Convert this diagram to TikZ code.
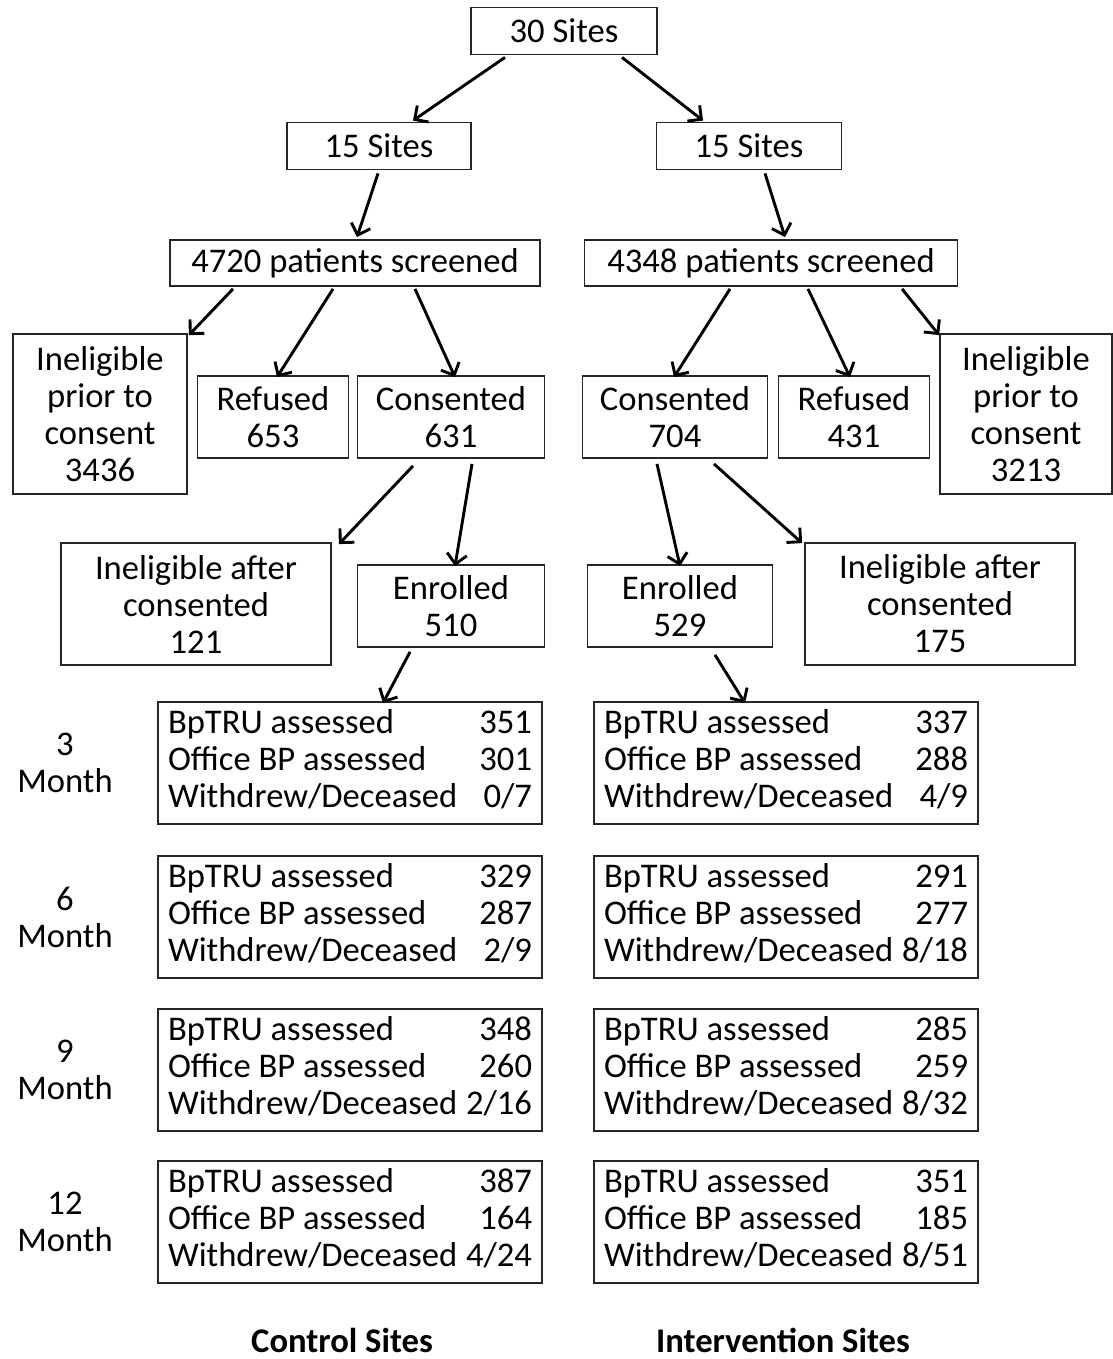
\documentclass[tikz,border=0pt]{standalone}
\usepackage{fontspec}
\setmainfont{Carlito}
\usetikzlibrary{arrows.meta}
\begin{document}
\begin{tikzpicture}[x=1pt,y=-1pt,
  box/.style={draw=black!85, line width=1.8pt, inner sep=0pt, align=center,
    font=\fontsize{34.6}{37}\selectfont},
  lbl/.style={inner sep=0pt, align=center, font=\fontsize{34.6}{37}\selectfont},
  arr/.style={line width=2.9pt, -{Straight Barb[length=10pt,width=20pt,line width=2.9pt]}},
  tab/.style={box, minimum width=384pt, minimum height=122pt}
]
\useasboundingbox (0,0) rectangle (1112,1359);

\node[box, minimum width=186pt, minimum height=47pt] (s30) at (564,31) {30 Sites};
\node[box, minimum width=184pt, minimum height=47pt] (s15L) at (379,146) {15 Sites};
\node[box, minimum width=185pt, minimum height=47pt] (s15R) at (749,146) {15 Sites};
\node[box, minimum width=370pt, minimum height=46pt] (scrL) at (355,263) {4720 patients screened};
\node[box, minimum width=373pt, minimum height=46pt] (scrR) at (771,263) {4348 patients screened};

\node[box, minimum width=174pt, minimum height=160pt] (inelL) at (100,414) {Ineligible\\prior to\\consent\\3436};
\node[box, minimum width=151pt, minimum height=82pt] (refL) at (273,417) {Refused\\653};
\node[box, minimum width=187pt, minimum height=82pt] (conL) at (451,417) {Consented\\631};
\node[box, minimum width=185pt, minimum height=82pt] (conR) at (675,417) {Consented\\704};
\node[box, minimum width=151pt, minimum height=82pt] (refR) at (854,417) {Refused\\431};
\node[box, minimum width=172pt, minimum height=160pt] (inelR) at (1026,414) {Ineligible\\prior to\\consent\\3213};

\node[box, minimum width=270pt, minimum height=122pt] (iacL) at (196,604) {Ineligible after\\consented\\121};
\node[box, minimum width=187pt, minimum height=82pt] (enrL) at (451,606) {Enrolled\\510};
\node[box, minimum width=185pt, minimum height=82pt] (enrR) at (680,606) {Enrolled\\529};
\node[box, minimum width=270pt, minimum height=122pt] (iacR) at (940,604) {Ineligible after\\consented\\175};

% follow-up tables
\newcommand{\fuptab}[3]{\begin{tabular*}{364pt}{@{}l@{\extracolsep{\fill}}r@{}}BpTRU assessed & #1\\Office BP assessed & #2\\Withdrew/Deceased & #3\end{tabular*}}
\node[tab] (L3) at (350,763) {\fuptab{351}{301}{0/7}};
\node[tab] (R3) at (786,763) {\fuptab{337}{288}{4/9}};
\node[tab] (L6) at (350,917) {\fuptab{329}{287}{2/9}};
\node[tab] (R6) at (786,917) {\fuptab{291}{277}{8/18}};
\node[tab] (L9) at (350,1070) {\fuptab{348}{260}{2/16}};
\node[tab] (R9) at (786,1070) {\fuptab{285}{259}{8/32}};
\node[tab] (L12) at (350,1222) {\fuptab{387}{164}{4/24}};
\node[tab] (R12) at (786,1222) {\fuptab{351}{185}{8/51}};

\node[lbl] (m3) at (65,763) {3\\Month};
\node[lbl] (m6) at (65,917) {6\\Month};
\node[lbl] (m9) at (65,1070) {9\\Month};
\node[lbl] (m12) at (65,1222) {12\\Month};

\node[lbl, font=\fontsize{34.6}{37}\selectfont\bfseries] (ctl) at (342,1340) {Control Sites};
\node[lbl, font=\fontsize{34.6}{37}\selectfont\bfseries] (int) at (783,1340) {Intervention Sites};

% connectors
\draw[arr] ([xshift=-59pt,yshift=-2pt]s30.south) -- ([xshift=34pt,yshift=1pt]s15L.north);
\draw[arr] ([xshift=58pt,yshift=-2pt]s30.south) -- ([xshift=-46pt,yshift=1pt]s15R.north);
\draw[arr] ([xshift=-1pt,yshift=-3pt]s15L.south) -- ([xshift=2pt,yshift=2pt]scrL.north);
\draw[arr] ([xshift=16pt,yshift=-3pt]s15R.south) -- ([xshift=14pt,yshift=2pt]scrR.north);

\draw[arr] ([xshift=-122pt,yshift=-2pt]scrL.south) -- ([xshift=1pt,yshift=-2pt]inelL.north east);
\draw[arr] ([xshift=-22pt,yshift=-2pt]scrL.south) -- ([xshift=4pt,yshift=-2pt]refL.north);
\draw[arr] ([xshift=60pt,yshift=-2pt]scrL.south) -- ([xshift=4pt,yshift=-2pt]conL.north);

\draw[arr] ([xshift=-41pt,yshift=-2pt]scrR.south) -- ([xshift=-1pt,yshift=-2pt]conR.north);
\draw[arr] ([xshift=37pt,yshift=-2pt]scrR.south) -- ([xshift=-4pt,yshift=-2pt]refR.north);
\draw[arr] ([xshift=131pt,yshift=-2pt]scrR.south) -- ([xshift=0pt,yshift=-2pt]inelR.north west);

\draw[arr] ([xshift=-38pt,yshift=-7pt]conL.south) -- ([xshift=7pt,yshift=-2pt]iacL.north east);
\draw[arr] ([xshift=21pt,yshift=-5pt]conL.south) -- ([xshift=4pt,yshift=-2pt]enrL.north);
\draw[arr] ([xshift=-18pt,yshift=-5pt]conR.south) -- ([xshift=0pt,yshift=-2pt]enrR.north);
\draw[arr] ([xshift=39pt,yshift=-5pt]conR.south) -- ([xshift=-2pt,yshift=-1pt]iacR.north west);

\draw[arr] ([xshift=-41pt,yshift=-4pt]enrL.south) -- ([xshift=33pt,yshift=-2pt]L3.north);
\draw[arr] ([xshift=35pt,yshift=-7pt]enrR.south) -- ([xshift=-41pt,yshift=-2pt]R3.north);
\end{tikzpicture}
\end{document}
